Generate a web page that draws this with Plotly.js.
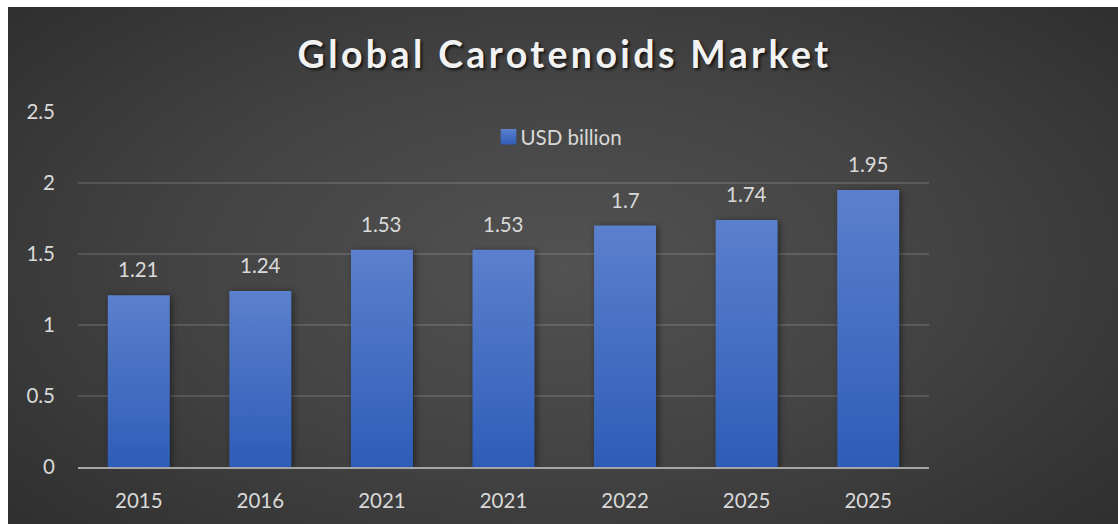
<!DOCTYPE html>
<html>
<head>
<meta charset="utf-8">
<script src="https://cdn.plot.ly/plotly-3.0.1.min.js"></script>
<style>
  html, body { margin:0; padding:0; background:#ffffff; }
  #wrap { position:absolute; left:8px; top:7px; width:1110px; height:517px;
          background: radial-gradient(ellipse 75% 85% at 50% 50%, #525252 0%, #434343 45%, #2a2a2a 100%); }
  #chart { position:absolute; left:-8px; top:-7px; width:1118px; height:524px; }
  .gtitle { letter-spacing: 3.4px; }
</style>
</head>
<body>
<div id="wrap"><div id="chart"></div></div>
<script>
const categories = ["2015", "2016", "2021", "2021", "2022", "2025", "2025"];
const values = [1.21, 1.24, 1.53, 1.53, 1.7, 1.74, 1.95];
const labels = ["1.21", "1.24", "1.53", "1.53", "1.7", "1.74", "1.95"];
const yTicks = [0, 0.5, 1, 1.5, 2, 2.5];
const yTickText = ["0", "0.5", "1", "1.5", "2", "2.5"];
const seriesName = "USD billion";

const positions = categories.map((c, i) => i);
const font = "Lato, 'Open Sans', sans-serif";

const trace = {
  type: "bar",
  x: positions,
  y: values,
  name: seriesName,
  width: 0.51,
  marker: { color: "#4571c6", line: { width: 0 } },
  hoverinfo: "x+y"
};

const annotations = positions.map((p, i) => ({
  x: p, y: values[i], xref: "x", yref: "y",
  text: labels[i], showarrow: false,
  yanchor: "middle", yshift: 26,
  font: { family: font, size: 20.5, color: "#d9d9d9" }
}));

const layout = {
  width: 1118, height: 524,
  paper_bgcolor: "rgba(0,0,0,0)",
  plot_bgcolor: "rgba(0,0,0,0)",
  margin: { l: 78, r: 189, t: 112, b: 57 },
  title: {
    text: "Global Carotenoids Market",
    x: 0.505, xanchor: "center", y: 0.895, yanchor: "middle",
    font: { family: font, size: 37.5, color: "#f2f2f2", weight: 700, shadow: "2px 2px 3px rgba(0,0,0,0.7)" }
  },
  annotations: annotations,
  showlegend: true,
  legend: {
    x: 0.48, xanchor: "left", y: 0.93, yanchor: "middle",
    orientation: "h",
    bgcolor: "rgba(0,0,0,0)",
    font: { family: font, size: 20.5, color: "#d9d9d9" },
    itemwidth: 30
  },
  xaxis: {
    range: [-0.5, 6.5],
    tickmode: "array",
    tickvals: positions,
    ticktext: categories,
    showgrid: false,
    zeroline: false,
    showline: true,
    linecolor: "#a6a6a6",
    linewidth: 2,
    ticks: "",
    ticklabelstandoff: 14,
    tickfont: { family: font, size: 20.5, color: "#d9d9d9" },
    fixedrange: true
  },
  yaxis: {
    range: [0, 2.5],
    tickmode: "array",
    tickvals: yTicks,
    ticktext: yTickText,
    showgrid: true,
    gridcolor: "rgba(255,255,255,0.13)",
    gridwidth: 1.5,
    zeroline: false,
    showline: false,
    ticks: "",
    ticklabelstandoff: 22,
    tickfont: { family: font, size: 20.5, color: "#d9d9d9" },
    fixedrange: true
  },
  bargap: 0.49
};

Plotly.newPlot("chart", [trace], layout, { displayModeBar: false, staticPlot: true }).then(gd => {
  const svg = gd.querySelector("svg.main-svg");
  const ns = "http://www.w3.org/2000/svg";
  let defs = svg.querySelector("defs");
  const grad = document.createElementNS(ns, "linearGradient");
  grad.setAttribute("id", "barGrad");
  grad.setAttribute("x1", "0"); grad.setAttribute("y1", "0");
  grad.setAttribute("x2", "0"); grad.setAttribute("y2", "1");
  grad.setAttribute("gradientUnits", "objectBoundingBox");
  [["0%", "#5b80cd"], ["100%", "#2e5db7"]].forEach(([o, c]) => {
    const s = document.createElementNS(ns, "stop");
    s.setAttribute("offset", o); s.setAttribute("stop-color", c);
    grad.appendChild(s);
  });
  defs.appendChild(grad);
  gd.querySelectorAll(".bars .point path").forEach(p => {
    p.style.fill = "url(#barGrad)";
    p.style.filter = "drop-shadow(2px 1px 3px rgba(0,0,0,0.45))";
  });
  // legend: larger square, closer to the text
  gd.querySelectorAll(".legend .legendpoints path").forEach(p => {
    p.setAttribute("transform", "translate(22,0) scale(1.3)");
    p.style.fill = "url(#barGrad)";
  });
  gd.querySelectorAll(".legend text.legendtext").forEach(t => {
    t.setAttribute("x", "34");
  });
});
</script>
</body>
</html>
